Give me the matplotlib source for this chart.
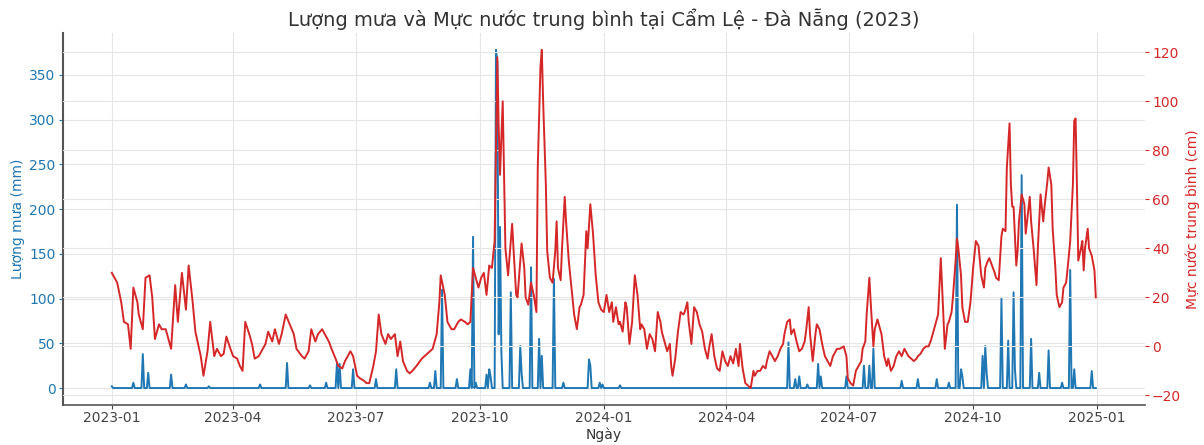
import numpy as np
import pandas as pd
import matplotlib
matplotlib.use("Agg")
import matplotlib.pyplot as plt
import matplotlib.dates as mdates

start = pd.Timestamp("2023-01-01")
n_days = 731

# muc nuoc trung binh (cm), theo so ngay tinh tu 2023-01-01
level_day = [
    0, 3, 4, 7, 9, 12, 14, 16, 19, 20, 21, 23, 25, 28, 30, 32, 35, 37, 40, 41,
    44, 47, 49, 52, 55, 57, 60, 62, 64, 66, 68, 71, 73, 76, 78, 81, 83, 85, 88, 90,
    93, 95, 97, 99, 102, 104, 106, 109, 111, 114, 116, 119, 121, 124, 126, 129, 132, 135, 137, 141,
    143, 146, 148, 151, 153, 156, 158, 161, 163, 166, 168, 171, 173, 177, 179, 182, 184, 187, 189, 191,
    194, 196, 198, 200, 203, 205, 207, 210, 212, 214, 216, 219, 221, 223, 226, 230, 232, 236, 238, 241,
    243, 244, 247, 249, 252, 254, 257, 259, 262, 264, 266, 268, 270, 272, 274, 276, 278, 280, 282, 284,
    285, 286, 287, 288, 289, 290, 291, 292, 294, 297, 298, 300, 301, 304, 306, 307, 309, 311, 313, 315,
    316, 318, 319, 320, 322, 323, 325, 327, 329, 330, 331, 333, 334, 336, 337, 339, 341, 343, 345, 347,
    348, 350, 352, 353, 355, 357, 359, 361, 363, 365, 367, 369, 371, 372, 374, 376, 377, 379, 381, 382,
    384, 386, 388, 390, 392, 393, 395, 397, 399, 401, 403, 405, 407, 408, 410, 412, 414, 415, 416, 418,
    420, 422, 424, 425, 427, 428, 430, 432, 434, 436, 438, 440, 442, 443, 445, 447, 449, 451, 453, 455,
    457, 459, 461, 463, 465, 466, 468, 470, 472, 474, 476, 477, 479, 481, 483, 485, 486, 488, 490, 492,
    494, 496, 498, 499, 501, 503, 504, 506, 508, 510, 512, 514, 515, 517, 518, 520, 522, 523, 525, 527,
    529, 531, 533, 535, 538, 540, 543, 545, 546, 548, 550, 552, 554, 556, 557, 559, 560, 562, 563, 565,
    566, 568, 570, 571, 573, 575, 576, 578, 580, 582, 584, 586, 588, 589, 591, 593, 595, 597, 598, 600,
    602, 604, 606, 608, 610, 611, 613, 615, 616, 617, 618, 620, 621, 623, 624, 626, 627, 628, 630, 631,
    633, 635, 637, 639, 641, 643, 645, 647, 648, 650, 651, 653, 655, 656, 658, 660, 661, 663, 664, 666,
    667, 668, 669, 671, 672, 673, 675, 677, 678, 679, 681, 682, 684, 686, 687, 689, 691, 692, 694, 695,
    697, 698, 700, 701, 703, 705, 706, 708, 710, 711, 713, 714, 715, 716, 717, 719, 720, 721, 722, 724,
    725, 727, 729, 730,
]
level_cm = [
    30, 27, 26, 18, 10, 9, -1, 24, 18, 13, 11, 7, 28, 29, 20, 3, 9, 7, 7, 5,
    -1, 25, 10, 30, 15, 33, 18, 6, 1, -4, -12, -2, 10, -4, -1, -4, -3, 4, -1, -4,
    -5, -8, -10, 10, 5, 1, -5, -4, -2, 1, 6, 2, 7, 1, 5, 13, 9, 5, -1, -4,
    -5, -2, 7, 2, 5, 7, 5, 2, -1, -5, -8, -9, -6, -2, -4, -12, -13, -14, -15, -15,
    -8, -2, 13, 5, 1, 5, 3, 5, -4, 2, -6, -10, -11, -10, -8, -5, -4, -2, -1, 5,
    18, 29, 21, 10, 7, 7, 10, 11, 10, 9, 10, 32, 28, 24, 28, 30, 21, 33, 32, 43,
    80, 118, 90, 70, 85, 100, 70, 40, 29, 50, 40, 21, 20, 42, 32, 20, 17, 26, 21, 14,
    73, 114, 121, 100, 66, 39, 28, 26, 39, 51, 32, 27, 40, 61, 51, 35, 24, 13, 7, 16,
    17, 21, 47, 40, 58, 46, 29, 18, 15, 14, 21, 14, 18, 10, 16, 9, 10, 6, 18, 16,
    1, 10, 29, 21, 7, 9, 7, -1, 5, 3, -2, 14, 10, 6, 2, -2, 1, -8, -12, -5,
    6, 14, 13, 14, 18, 10, 1, 16, 14, 9, 6, -1, -5, -1, 5, -4, -9, -10, -2, -6,
    -8, -4, -7, -1, -8, 1, -9, -15, -16, -17, -10, -12, -10, -10, -8, -9, -6, -2, -4, -6,
    -4, -1, 1, 5, 10, 11, 5, 7, 2, -2, -1, 2, 6, 16, 5, -6, 5, 9, 7, 1,
    -4, -6, -8, -4, -1, -1, 0, -4, -13, -15, -16, -10, -8, -6, -1, 2, 13, 28, 18, 0,
    7, 11, 7, 5, -4, -8, -5, -10, -8, -4, -2, -4, -1, -2, -4, -5, -6, -5, -4, -3,
    -1, 0, 0, 3, 7, 9, 13, 36, 24, 11, -1, 9, 10, 14, 20, 35, 44, 40, 29, 16,
    10, 10, 18, 32, 43, 41, 29, 24, 32, 35, 36, 33, 30, 28, 27, 45, 48, 47, 73, 91,
    66, 57, 57, 33, 39, 51, 62, 58, 46, 51, 61, 51, 39, 25, 40, 62, 51, 57, 67, 73,
    66, 48, 32, 21, 16, 18, 24, 26, 37, 43, 66, 92, 93, 66, 35, 40, 43, 31, 40, 48,
    40, 37, 31, 20,
]

# luong mua (mm): chi nhung ngay co mua, cac ngay con lai = 0
rain_day = [
    0, 16, 23, 27, 44, 55, 72, 110, 130, 147, 159, 167, 169, 179, 196, 211, 236, 240, 245, 256,
    266, 268, 270, 278, 280, 281, 285, 286, 287, 288, 289, 296, 303, 304, 311, 317, 319, 328, 335, 354,
    355, 362, 364, 377, 502, 507, 510, 516, 524, 526, 545, 558, 562, 565, 586, 598, 612, 621, 627, 630,
    631, 646, 648, 649, 660, 665, 669, 670, 675, 682, 688, 695, 705, 711, 714, 727,
]
rain_mm = [
    2, 6, 38, 17, 15, 4, 2, 4, 28, 3, 6, 27, 27, 21, 10, 21, 6, 19, 110, 10,
    21, 169, 6, 15, 21, 13, 378, 365, 60, 180, 40, 107, 47, 17, 135, 55, 36, 122, 6, 32,
    25, 6, 4, 3, 51, 10, 13, 4, 27, 13, 13, 25, 25, 44, 8, 10, 10, 6, 205, 21,
    13, 36, 47, 17, 100, 53, 107, 21, 238, 55, 17, 42, 6, 132, 21, 19,
]

dates = pd.date_range(start, periods=n_days, freq="D")
rain = np.zeros(n_days)
rain[rain_day] = rain_mm
level_dates = start + pd.to_timedelta(level_day, unit="D")

c_rain = "#1f77b4"
c_level = "#d62728"

fig, ax1 = plt.subplots(figsize=(12.04, 4.45), dpi=100)
fig.subplots_adjust(left=0.052, right=0.951, bottom=0.09, top=0.926)

ax1.plot(dates, rain, color=c_rain, linewidth=1.4)
ax1.set_ylabel("Lượng mưa (mm)", color=c_rain, fontsize=10, labelpad=3)
ax1.tick_params(axis="y", colors=c_rain, labelsize=10, length=3, pad=2)
ax1.tick_params(axis="x", colors="#444444", labelsize=10, length=3, pad=1.5)
ax1.set_xlabel("Ngày", fontsize=10, color="#333333", labelpad=2)
ax1.grid(True, color="#e6e6e6", linewidth=0.8)
ax1.set_axisbelow(True)

ax2 = ax1.twinx()
ax2.plot(level_dates, level_cm, color=c_level, linewidth=1.4)
ax2.set_ylabel("Mực nước trung bình (cm)", color=c_level, fontsize=10, labelpad=3)
ax2.tick_params(axis="y", colors=c_level, labelsize=10, length=3, pad=2)
ax2.grid(True, axis="y", color="#e6e6e6", linewidth=0.8)

ax1.xaxis.set_major_locator(mdates.MonthLocator(bymonth=[1, 4, 7, 10]))
ax1.xaxis.set_major_formatter(mdates.DateFormatter("%Y-%m"))

for ax in (ax1, ax2):
    ax.spines["top"].set_visible(False)
    ax.spines["right"].set_visible(False)
ax1.spines["left"].set_color("#555555")
ax1.spines["left"].set_linewidth(1.5)
ax1.spines["bottom"].set_color("#555555")
ax1.spines["bottom"].set_linewidth(1.2)
ax2.spines["left"].set_visible(False)
ax2.spines["bottom"].set_visible(False)

plt.title("Lượng mưa và Mực nước trung bình tại Cẩm Lệ - Đà Nẵng (2023)",
          fontsize=14, color="#333333", pad=5)

plt.savefig("out.png", dpi=100)
plt.close()
